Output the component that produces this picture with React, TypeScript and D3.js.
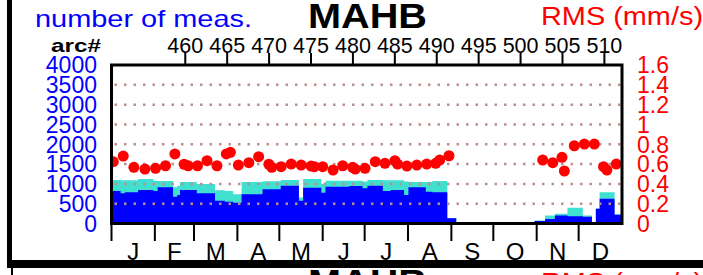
import React from 'react';
import * as d3 from 'd3';

// step segments of the number of measurements (start day of year)
const segStart = [0, 6.5, 9.6, 19, 30, 33, 44, 47, 49, 61, 74, 81, 87, 93, 108, 121, 134, 137, 150, 153,
  170, 179.5, 183, 194, 199.7, 209.2, 212.3, 224.7, 229.4, 240.1, 246.5, 302.5, 310, 317, 326, 337, 343.5, 346.3, 349, 359.7];
const blueCount = [820, 762, 787, 845, 820, 914, 677, 720, 845, 762, 575, 550, 525, 737, 863, 955, 575, 905, 778, 930,
  947, 888, 955, 820, 845, 720, 914, 804, 787, 131, 0, 60, 115, 205, 185, 170, 0, 370, 625, 220];
const totalCount = [1098, 1090, 1090, 1123, 1080, 1073, 914, 950, 1047, 997, 838, 820, 740, 1047, 1065, 1098, 655, 1123, 997, 1080,
  1080, 1060, 1098, 1090, 1090, 1060, 1047, 1047, 1073, 140, 0, 75, 205, 245, 400, 205, 0, 380, 787, 235];

// RMS points
const rmsDay = [1.3, 8.4, 16.0, 23.9, 31.5, 38.6, 45.3, 51.9, 54.8, 61.5, 68.3, 75.4, 82.1, 85.0, 90.7, 98.2, 105.2, 112.5, 114.6, 121.3,
  128.5, 135.6, 142.7, 145.1, 151.0, 158.4, 165.3, 172.4, 174.3, 181.3, 188.6, 195.5, 202.6, 204.5, 211.2, 218.3, 225.4, 231.8, 234.7, 241.3,
  308.3, 315.5, 322.1, 323.8, 330.9, 338.1, 345.2, 351.8, 354.2, 360.9];
const rmsVal = [0.624, 0.681, 0.567, 0.55, 0.557, 0.583, 0.702, 0.598, 0.583, 0.583, 0.634, 0.583, 0.702, 0.719, 0.59, 0.614, 0.674, 0.598, 0.567, 0.574,
  0.6, 0.59, 0.58, 0.574, 0.574, 0.54, 0.583, 0.567, 0.55, 0.557, 0.624, 0.608, 0.634, 0.6, 0.58, 0.59, 0.6, 0.608, 0.641, 0.684,
  0.641, 0.614, 0.668, 0.53, 0.785, 0.802, 0.802, 0.574, 0.54, 0.6];

const monthNames = ['J', 'F', 'M', 'A', 'M', 'J', 'J', 'A', 'S', 'O', 'N', 'D'];
const monthStart = [0, 31, 59, 90, 120, 151, 181, 212, 243, 273, 304, 334, 365];
const arcTicks = [460, 465, 470, 475, 480, 485, 490, 495, 500, 505, 510];
const countTicks = [0, 500, 1000, 1500, 2000, 2500, 3000, 3500, 4000];
const rmsTicks = [0, 0.2, 0.4, 0.6, 0.8, 1, 1.2, 1.4, 1.6];

const FONT = 'Liberation Sans, Arial, Helvetica, sans-serif';

function Header({ dy }: { dy: number }) {
  return (
    <g transform={`translate(0,${dy})`}>
      <text x={35} y={27} fill="#0000ff" fontSize={24} textLength={217} lengthAdjust="spacingAndGlyphs">number of meas.</text>
      <text x={308} y={28} fill="#000" fontSize={35} fontWeight="bold" textLength={119} lengthAdjust="spacingAndGlyphs">MAHB</text>
      <text x={541} y={25} fill="#ff0000" fontSize={25} textLength={162} lengthAdjust="spacingAndGlyphs">RMS (mm/s)</text>
    </g>
  );
}

export default function App() {
  const left = 111.5, right = 622, top = 65, bottom = 223.5;
  const x = d3.scaleLinear().domain([0, 365]).range([left, right]);
  const arcX = d3.scaleLinear().domain([451.2, 512.1]).range([left, right]);
  const yCount = d3.scaleLinear().domain([0, 4000]).range([bottom, top]);
  const yRms = d3.scaleLinear().domain([0, 1.6]).range([bottom, top]);

  const steps = segStart.map((s, i) => ({ day: s, blue: blueCount[i], total: totalCount[i] }));
  steps.push({ day: 365, blue: blueCount[blueCount.length - 1], total: totalCount[totalCount.length - 1] });

  const totalArea = d3.area<any>().curve(d3.curveStepAfter)
    .x(d => x(d.day)).y0(bottom).y1(d => yCount(d.total));
  const blueArea = d3.area<any>().curve(d3.curveStepAfter)
    .x(d => x(d.day)).y0(bottom).y1(d => yCount(d.blue));

  return (
    <svg width={703} height={275} style={{ position: 'absolute', left: 0, top: 0, background: '#fff' }} fontFamily={FONT}>
      <defs>
        <clipPath id="plot">
          <rect x={left} y={top} width={right - left} height={bottom - top} />
        </clipPath>
      </defs>

      <Header dy={0} />
      <Header dy={266} />

      {/* outer panel frame */}
      <rect x={7} y={0} width={5} height={262} fill="#000" />
      <rect x={7} y={260} width={696} height={8} fill="#000" />
      <line x1={12} x2={12} y1={268} y2={275} stroke="#000" strokeWidth={2} />

      <text x={51} y={52} fontSize={19} fontWeight="bold" textLength={50} lengthAdjust="spacingAndGlyphs">arc#</text>

      {/* top arc axis */}
      {arcTicks.map(a => (
        <g key={a}>
          <line x1={arcX(a)} x2={arcX(a)} y1={top} y2={top - 12} stroke="#000" strokeWidth={2} />
          <text x={arcX(a)} y={53} fontSize={21.5} textAnchor="middle">{a}</text>
        </g>
      ))}

      {/* left axis labels */}
      {countTicks.map(t => (
        <text key={t} x={97} y={yCount(t) + 8.3} fontSize={23} fill="#0000ff" textAnchor="end">{t}</text>
      ))}
      {/* right axis labels */}
      {rmsTicks.map(t => (
        <text key={t} x={637} y={yRms(t) + 8.3} fontSize={23} fill="#ff0000">{t}</text>
      ))}

      <g clipPath="url(#plot)">
        <path d={totalArea(steps) || ''} fill="#40e0d0" />
        <path d={blueArea(steps) || ''} fill="#0000ff" />
        {countTicks.filter(t => t > 0 && t < 4000).map(t => (
          <line key={t} x1={left + 3} x2={right} y1={yCount(t)} y2={yCount(t)}
            stroke="#bc8f8f" strokeWidth={2.5} strokeDasharray="2.5 7" />
        ))}
        {rmsDay.map((d, i) => (
          <circle key={i} cx={x(d)} cy={yRms(rmsVal[i])} r={5.5} fill="#ff0000" />
        ))}
      </g>

      {/* month ticks and labels */}
      {monthStart.slice(0, 12).map(d => (
        <line key={d} x1={x(d)} x2={x(d)} y1={bottom} y2={241} stroke="#000" strokeWidth={2} />
      ))}
      {monthNames.map((m, i) => (
        <text key={i} x={x((monthStart[i] + monthStart[i + 1]) / 2)} y={260} fontSize={24} textAnchor="middle">{m}</text>
      ))}

      <rect x={left} y={top} width={right - left} height={bottom - top} fill="none" stroke="#000" strokeWidth={3} />
    </svg>
  );
}
